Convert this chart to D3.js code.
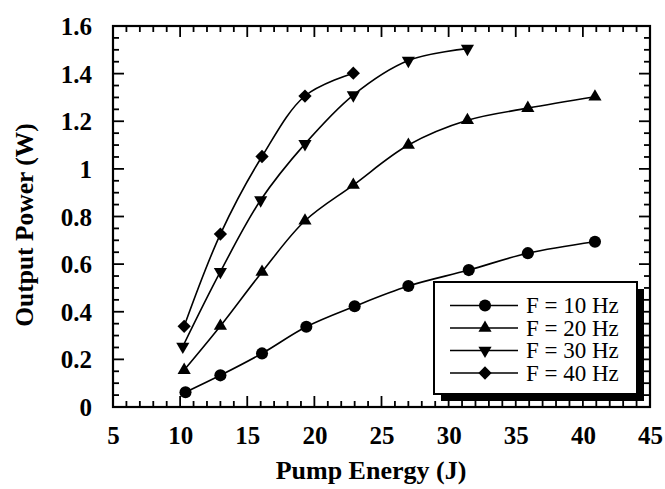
<!DOCTYPE html>
<html><head><meta charset="utf-8">
<script src="https://cdn.jsdelivr.net/npm/d3@7"></script>
<style>html,body{margin:0;padding:0;background:#fff;}</style>
</head><body>
<svg id="c" width="665" height="489"></svg>
<script>
const xTicks = [5,10,15,20,25,30,35,40,45];
const yTicks = [0,0.2,0.4,0.6,0.8,1,1.2,1.4,1.6];
const yTickLabels = ["0","0.2","0.4","0.6","0.8","1","1.2","1.4","1.6"];
const seriesNames = ["F = 10 Hz","F = 20 Hz","F = 30 Hz","F = 40 Hz"];
const energy10 = [10.4, 13.0, 16.1, 19.4, 23.0, 27.0, 31.5, 35.9, 40.9];
const power10  = [0.062, 0.133, 0.225, 0.337, 0.423, 0.508, 0.575, 0.646, 0.694];
const energy20 = [10.3, 13.0, 16.1, 19.3, 22.9, 27.0, 31.4, 35.9, 40.9];
const power20  = [0.155, 0.34, 0.567, 0.782, 0.932, 1.10, 1.204, 1.255, 1.303];
const energy30 = [10.2, 13.0, 16.0, 19.3, 22.9, 27.0, 31.4];
const power30  = [0.254, 0.568, 0.869, 1.105, 1.31, 1.455, 1.505];
const energy40 = [10.3, 13.0, 16.1, 19.3, 22.9];
const power40  = [0.339, 0.726, 1.052, 1.306, 1.402];

const series = [
  {name: seriesNames[0], xs: energy10, ys: power10, sym: d3.symbolCircle, size: 115, rot: 0},
  {name: seriesNames[1], xs: energy20, ys: power20, sym: d3.symbolTriangle, size: 75, rot: 0},
  {name: seriesNames[2], xs: energy30, ys: power30, sym: d3.symbolTriangle, size: 75, rot: 180},
  {name: seriesNames[3], xs: energy40, ys: power40, sym: d3.symbolSquare, size: 88, rot: 45},
];

const L = 113, R = 650, T = 26, B = 407;
const x = d3.scaleLinear().domain([5,45]).range([L,R]);
const y = d3.scaleLinear().domain([0,1.6]).range([B,T]);
const svg = d3.select("#c");
const font = '"Liberation Serif"';

const xMinor = d3.range(5,45.001,1);
const yMinor = d3.range(0,1.6001,0.05);
const g = svg.append("g").attr("stroke","#000").attr("stroke-width",1.8);
xMinor.forEach(v=>{
  const major = Math.abs(v%5)<1e-6;
  const len = major?11:6;
  g.append("line").attr("x1",x(v)).attr("x2",x(v)).attr("y1",B).attr("y2",B-len);
  g.append("line").attr("x1",x(v)).attr("x2",x(v)).attr("y1",T).attr("y2",T+len);
});
yMinor.forEach(v=>{
  const major = Math.abs(Math.round(v/0.2)*0.2 - v)<1e-6;
  const len = major?11:6;
  g.append("line").attr("y1",y(v)).attr("y2",y(v)).attr("x1",L).attr("x2",L+len);
  g.append("line").attr("y1",y(v)).attr("y2",y(v)).attr("x1",R).attr("x2",R-len);
});
svg.append("rect").attr("x",L).attr("y",T).attr("width",R-L).attr("height",B-T)
  .attr("fill","none").attr("stroke","#000").attr("stroke-width",2.2);

const xAxis = d3.axisBottom(x).tickValues(xTicks).tickSize(0).tickPadding(0).tickFormat(d3.format("d"));
const xg = svg.append("g").attr("transform",`translate(0,${B})`).call(xAxis);
xg.select(".domain").remove();
xg.selectAll("text").style("font-family",font).attr("font-weight","bold").attr("font-size",25)
  .attr("fill","#000").attr("dy",null).attr("y",37);
const yAxis = d3.axisLeft(y).tickValues(yTicks).tickSize(0).tickPadding(0).tickFormat((d,i)=>yTickLabels[i]);
const yg = svg.append("g").attr("transform",`translate(${92},0)`).call(yAxis);
yg.select(".domain").remove();
yg.selectAll("text").style("font-family",font).attr("font-weight","bold").attr("font-size",25)
  .attr("fill","#000").attr("x",0).attr("dy","0.34em");

svg.append("text").attr("x",371).attr("y",479).attr("text-anchor","middle")
  .style("font-family",font).attr("font-weight","bold").attr("font-size",26).text("Pump Energy (J)");
svg.append("text").attr("transform",`translate(33,225) rotate(-90)`).attr("text-anchor","middle")
  .style("font-family",font).attr("font-weight","bold").attr("font-size",25.5).text("Output Power (W)");

const line = d3.line().x(d=>x(d[0])).y(d=>y(d[1])).curve(d3.curveCatmullRom.alpha(0.5));
series.forEach(s=>{
  const pts = s.xs.map((v,i)=>[v,s.ys[i]]);
  svg.append("path").attr("d",line(pts)).attr("fill","none").attr("stroke","#000").attr("stroke-width",1.6);
  pts.forEach(p=>{
    svg.append("path").attr("d",d3.symbol().type(s.sym).size(s.size)())
      .attr("transform",`translate(${x(p[0])},${y(p[1])}) rotate(${s.rot})`).attr("fill","#000");
  });
});

const lx = 434, ly = 282, lw = 203, lh = 112;
svg.append("rect").attr("x",lx+7).attr("y",ly+7).attr("width",lw).attr("height",lh).attr("fill","#000");
svg.append("rect").attr("x",lx).attr("y",ly).attr("width",lw).attr("height",lh)
  .attr("fill","#fff").attr("stroke","#000").attr("stroke-width",2);
const rowY = [305.5, 328, 350.5, 373];
series.forEach((s,i)=>{
  const yy = rowY[i];
  svg.append("line").attr("x1",450).attr("x2",518).attr("y1",yy).attr("y2",yy).attr("stroke","#000").attr("stroke-width",1.6);
  svg.append("path").attr("d",d3.symbol().type(s.sym).size(s.size)())
    .attr("transform",`translate(485,${yy}) rotate(${s.rot})`).attr("fill","#000");
  svg.append("text").attr("x",526).attr("y",yy+7.5).style("font-family",font).attr("font-size",23)
    .attr("fill","#000").text(s.name);
});
</script>
</body></html>
